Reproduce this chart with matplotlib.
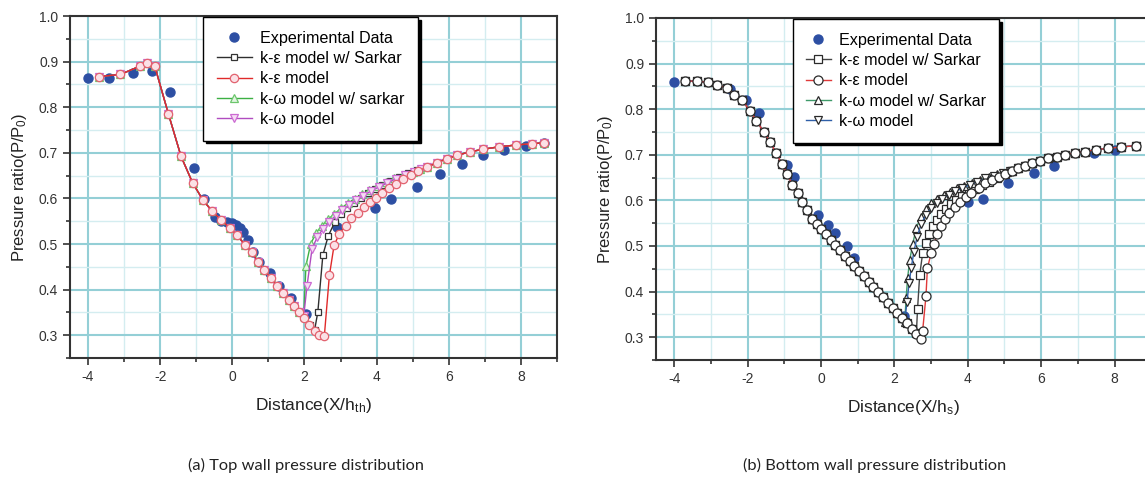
"""
Wall pressure distributions (top / bottom wall): experiment vs. four turbulence models.
"""
import matplotlib
matplotlib.use("Agg")
import matplotlib.pyplot as plt
from matplotlib.ticker import MultipleLocator

plt.rcParams["font.family"] = ["Liberation Sans", "DejaVu Sans"]
plt.rcParams["mathtext.fontset"] = "custom"
plt.rcParams["mathtext.rm"] = "Liberation Sans"
plt.rcParams["mathtext.it"] = "Liberation Sans"
plt.rcParams["axes.unicode_minus"] = False

# --- TOP WALL (a) ---
top_exp_x = [-4.0, -3.42, -2.76, -2.22, -1.72, -1.06, -0.78, -0.48, -0.31, -0.15, 0.0, 0.1, 0.2,
             0.3, 0.43, 0.57, 0.74, 1.04, 1.29, 1.62, 2.03, 2.9, 3.96, 4.4, 5.12, 5.75, 6.37,
             6.96, 7.53, 8.13, 8.65]
top_exp_y = [0.865, 0.865, 0.874, 0.879, 0.833, 0.667, 0.598, 0.560, 0.551, 0.548, 0.545, 0.541,
             0.536, 0.527, 0.509, 0.483, 0.461, 0.436, 0.409, 0.381, 0.347, 0.538, 0.580, 0.598,
             0.624, 0.653, 0.675, 0.696, 0.707, 0.716, 0.722]

# part shared by all four models upstream of the shock
top_up_x = [-3.7, -3.1, -2.56, -2.37, -2.15, -1.77, -1.42, -1.1, -0.81, -0.56, -0.31, -0.07,
            0.13, 0.35, 0.54, 0.71, 0.89, 1.07, 1.24, 1.41, 1.56, 1.7, 1.86]
top_up_y = [0.867, 0.872, 0.890, 0.897, 0.890, 0.785, 0.692, 0.634, 0.596, 0.572, 0.553, 0.535,
            0.520, 0.498, 0.483, 0.461, 0.443, 0.425, 0.409, 0.392, 0.378, 0.365, 0.350]
# part shared by all four models far downstream
top_tail_x = [5.4, 5.66, 5.94, 6.24, 6.58, 6.96, 7.38, 7.85, 8.3, 8.65]
top_tail_y = [0.669, 0.678, 0.687, 0.695, 0.702, 0.708, 0.713, 0.717, 0.720, 0.722]

top_kes_x = [2.0, 2.14, 2.28, 2.37, 2.51, 2.66, 2.84, 3.01, 3.19, 3.37, 3.56, 3.75, 3.95, 4.16,
             4.38, 4.61, 4.86, 5.12]
top_kes_y = [0.338, 0.323, 0.311, 0.351, 0.476, 0.518, 0.548, 0.565, 0.579, 0.591, 0.602, 0.612,
             0.621, 0.630, 0.639, 0.647, 0.655, 0.662]
top_ke_x = [2.0, 2.13, 2.28, 2.41, 2.55, 2.69, 2.82, 2.97, 3.14, 3.3, 3.47, 3.64, 3.81, 3.98,
            4.16, 4.34, 4.53, 4.73, 4.94, 5.16]
top_ke_y = [0.338, 0.323, 0.310, 0.301, 0.298, 0.431, 0.497, 0.523, 0.540, 0.556, 0.569, 0.581,
            0.592, 0.602, 0.612, 0.622, 0.632, 0.642, 0.651, 0.660]
top_kws_x = [1.98, 2.04, 2.17, 2.32, 2.48, 2.65, 2.83, 3.01, 3.2, 3.39, 3.59, 3.8, 4.02, 4.25,
             4.49, 4.74, 5.0, 5.2]
top_kws_y = [0.343, 0.452, 0.500, 0.524, 0.540, 0.554, 0.566, 0.578, 0.589, 0.599, 0.609, 0.618,
             0.627, 0.636, 0.644, 0.652, 0.659, 0.664]
top_kw_x = [1.98, 2.07, 2.21, 2.36, 2.52, 2.69, 2.87, 3.05, 3.24, 3.43, 3.63, 3.84, 4.06, 4.29,
            4.53, 4.78, 5.04, 5.22]
top_kw_y = [0.343, 0.408, 0.490, 0.516, 0.534, 0.549, 0.562, 0.574, 0.585, 0.596, 0.606, 0.616,
            0.625, 0.634, 0.643, 0.651, 0.658, 0.664]

# --- BOTTOM WALL (b) ---
bot_exp_x = [-4.0, -2.48, -2.04, -1.69, -0.92, -0.74, -0.07, 0.18, 0.39, 0.70, 0.91, 2.27, 4.0,
             4.42, 5.1, 5.8, 6.34, 7.45, 8.0]
bot_exp_y = [0.860, 0.845, 0.819, 0.792, 0.678, 0.651, 0.567, 0.545, 0.529, 0.499, 0.473, 0.347,
             0.596, 0.604, 0.638, 0.659, 0.675, 0.704, 0.711]

bot_up_x = [-3.70, -3.38, -3.09, -2.84, -2.57, -2.36, -2.15, -1.93, -1.76, -1.56, -1.39, -1.22,
            -1.07, -0.92, -0.78, -0.64, -0.51, -0.38, -0.24, -0.12, 0.0, 0.13, 0.26, 0.39, 0.52,
            0.65, 0.78, 0.91, 1.04, 1.17, 1.3, 1.43, 1.56, 1.69, 1.82, 1.95, 2.08, 2.21]
bot_up_y = [0.862, 0.861, 0.859, 0.854, 0.846, 0.832, 0.819, 0.796, 0.774, 0.750, 0.728, 0.703,
            0.680, 0.657, 0.634, 0.616, 0.596, 0.578, 0.560, 0.548, 0.538, 0.526, 0.514, 0.502,
            0.490, 0.479, 0.467, 0.456, 0.444, 0.433, 0.421, 0.410, 0.398, 0.387, 0.375, 0.364,
            0.352, 0.341]
bot_tail_x = [5.2, 5.38, 5.56, 5.76, 5.97, 6.2, 6.42, 6.65, 6.92, 7.2, 7.5, 7.82, 8.18, 8.58]
bot_tail_y = [0.664, 0.670, 0.675, 0.681, 0.686, 0.692, 0.696, 0.700, 0.704, 0.707, 0.711, 0.714,
              0.717, 0.720]

bot_kes_x = [2.34, 2.47, 2.6, 2.63, 2.69, 2.77, 2.85, 2.94, 3.04, 3.15, 3.27, 3.4, 3.54, 3.69,
             3.85, 4.02, 4.2, 4.39, 4.59, 4.8, 5.02]
bot_kes_y = [0.330, 0.318, 0.310, 0.361, 0.437, 0.484, 0.507, 0.527, 0.543, 0.557, 0.570, 0.582,
             0.592, 0.601, 0.609, 0.617, 0.625, 0.633, 0.641, 0.649, 0.657]
bot_ke_x = [2.34, 2.47, 2.6, 2.72, 2.77, 2.86, 2.9, 3.0, 3.08, 3.17, 3.27, 3.37, 3.5, 3.65, 3.8,
            3.95, 4.1, 4.3, 4.48, 4.66, 4.84, 5.02]
bot_ke_y = [0.330, 0.318, 0.307, 0.296, 0.314, 0.390, 0.451, 0.484, 0.505, 0.526, 0.544, 0.559,
            0.573, 0.585, 0.597, 0.607, 0.617, 0.628, 0.637, 0.644, 0.651, 0.658]
bot_kws_x = [2.28, 2.32, 2.36, 2.42, 2.5, 2.6, 2.72, 2.86, 3.01, 3.17, 3.34, 3.52, 3.71, 3.91,
             4.12, 4.34, 4.57, 4.81, 5.06]
bot_kws_y = [0.333, 0.385, 0.430, 0.470, 0.505, 0.540, 0.563, 0.582, 0.595, 0.604, 0.612, 0.619,
             0.626, 0.632, 0.638, 0.645, 0.651, 0.657, 0.663]
bot_kw_x = [2.28, 2.34, 2.4, 2.46, 2.53, 2.62, 2.73, 2.86, 3.0, 3.15, 3.31, 3.48, 3.66, 3.85,
            4.05, 4.26, 4.48, 4.71, 4.95, 5.15]
bot_kw_y = [0.333, 0.376, 0.418, 0.452, 0.487, 0.520, 0.548, 0.568, 0.583, 0.595, 0.604, 0.612,
            0.620, 0.627, 0.634, 0.641, 0.648, 0.654, 0.660, 0.665]

EXP_BLUE = "#2d4fa3"
GRID_MAJOR = "#94cfd6"
GRID_MINOR = "#d4edf0"
AXIS_GRAY = "#333333"


def full(up, own, tail):
    return up + own + tail


def style_axes(ax, xlabel):
    ax.set_xlim(-4.5, 9.0)
    ax.set_ylim(0.25, 1.0)
    ax.xaxis.set_major_locator(MultipleLocator(2))
    ax.xaxis.set_minor_locator(MultipleLocator(1))
    ax.yaxis.set_major_locator(MultipleLocator(0.1))
    ax.yaxis.set_minor_locator(MultipleLocator(0.05))
    ax.grid(which="major", color=GRID_MAJOR, lw=1.5, zorder=0)
    ax.grid(which="minor", color=GRID_MINOR, lw=1.0, zorder=0)
    ax.set_axisbelow(True)
    ax.tick_params(which="both", direction="out", colors=AXIS_GRAY, labelsize=10,
                   top=False, right=False, width=1.2)
    ax.tick_params(which="major", length=5)
    ax.tick_params(which="minor", length=3)
    for s in ax.spines.values():
        s.set_color(AXIS_GRAY)
        s.set_linewidth(1.5)
    ax.set_xlabel(xlabel, fontsize=12.5, color="#222222", labelpad=9)
    ax.set_ylabel(r"Pressure ratio(P/P$_{\mathrm{0}}$)", fontsize=12, color="#222222",
                  labelpad=7)


def add_legend(ax, handles, x0, handlelength):
    leg = ax.legend(handles, [h.get_label() for h in handles],
                    loc="upper left", bbox_to_anchor=(x0, 0.997), borderaxespad=0,
                    fontsize=11.6, fancybox=False, framealpha=1, edgecolor="black",
                    handlelength=handlelength, labelspacing=0.33, borderpad=0.85,
                    handletextpad=0.5, shadow={"color": "black", "alpha": 1})
    leg.get_frame().set_linewidth(1.0)
    return leg


fig = plt.figure(figsize=(11.45, 4.78), dpi=100)
ax1 = fig.add_axes([0.0611, 0.251, 0.4254, 0.7155])
ax2 = fig.add_axes([0.5729, 0.247, 0.4325, 0.7155])

# (a) top wall
h_exp = ax1.plot(top_exp_x, top_exp_y, "o", color=EXP_BLUE, ms=6.5, zorder=2,
                 label="Experimental Data")[0]
h_kes = ax1.plot(full(top_up_x, top_kes_x, top_tail_x), full(top_up_y, top_kes_y, top_tail_y),
                 "-s", color="#2f2f2f", lw=1.0, ms=5, mfc="white", mec="#333333", mew=0.9,
                 zorder=3, label="k-\u03b5 model w/ Sarkar")[0]
h_kws = ax1.plot(full(top_up_x, top_kws_x, top_tail_x), full(top_up_y, top_kws_y, top_tail_y),
                 "-^", color="#3cb043", lw=1.0, ms=5.5, mfc="#e3f5e3", mec="#6cc66c", mew=0.9,
                 zorder=4, label="k-\u03c9 model w/ sarkar")[0]
h_kw = ax1.plot(full(top_up_x, top_kw_x, top_tail_x), full(top_up_y, top_kw_y, top_tail_y),
                "-v", color="#b04cc0", lw=1.0, ms=5.5, mfc="#f6dcf4", mec="#cc6ad2", mew=0.9,
                zorder=5, label="k-\u03c9 model")[0]
h_ke = ax1.plot(full(top_up_x, top_ke_x, top_tail_x), full(top_up_y, top_ke_y, top_tail_y),
                "-o", color="#e02a2a", lw=1.0, ms=6, mfc="#fbe1e6", mec="#e2626f", mew=0.9,
                zorder=6, label="k-\u03b5 model")[0]
style_axes(ax1, r"Distance(X/h$_{\mathrm{th}}$)")
add_legend(ax1, [h_exp, h_kes, h_ke, h_kws, h_kw], 0.273, 2.2)

# (b) bottom wall
g_exp = ax2.plot(bot_exp_x, bot_exp_y, "o", color=EXP_BLUE, ms=6.5, zorder=2,
                 label="Experimental Data")[0]
g_kes = ax2.plot(full(bot_up_x, bot_kes_x, bot_tail_x), full(bot_up_y, bot_kes_y, bot_tail_y),
                 "-s", color="#444444", lw=1.0, ms=5.5, mfc="white", mec="#2a2a2a", mew=0.9,
                 zorder=3, label="k-\u03b5 model w/ Sarkar")[0]
g_kws = ax2.plot(full(bot_up_x, bot_kws_x, bot_tail_x), full(bot_up_y, bot_kws_y, bot_tail_y),
                 "-^", color="#3f9a6a", lw=1.0, ms=6, mfc="white", mec="#2a2a2a", mew=0.9,
                 zorder=4, label="k-\u03c9 model w/ Sarkar")[0]
g_kw = ax2.plot(full(bot_up_x, bot_kw_x, bot_tail_x), full(bot_up_y, bot_kw_y, bot_tail_y),
                "-v", color="#2f5fa8", lw=1.0, ms=6, mfc="white", mec="#2a2a2a", mew=0.9,
                zorder=5, label="k-\u03c9 model")[0]
g_ke = ax2.plot(full(bot_up_x, bot_ke_x, bot_tail_x), full(bot_up_y, bot_ke_y, bot_tail_y),
                "-o", color="#e03a3a", lw=1.0, ms=6.5, mfc="white", mec="#2a2a2a", mew=0.9,
                zorder=6, label="k-\u03b5 model")[0]
style_axes(ax2, r"Distance(X/h$_{\mathrm{s}}$)")
add_legend(ax2, [g_exp, g_kes, g_ke, g_kws, g_kw], 0.276, 1.5)

cap_font = ["Lato", "DejaVu Sans"]
fig.text(0.267, 0.027, "(a) Top wall pressure distribution", ha="center", va="center",
         fontsize=11.8, family=cap_font, color="#222222")
fig.text(0.764, 0.027, "(b) Bottom wall pressure distribution", ha="center", va="center",
         fontsize=11.8, family=cap_font, color="#222222")

fig.savefig("out.png", dpi=100, facecolor="white")
